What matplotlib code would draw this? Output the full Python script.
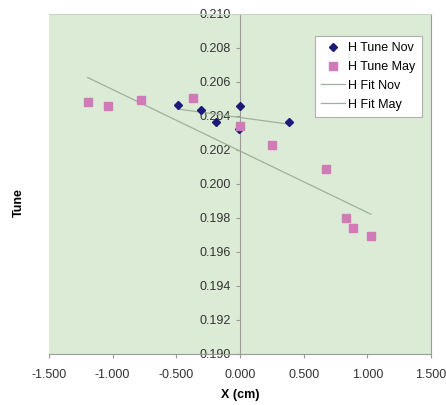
import matplotlib
matplotlib.use("Agg")
import matplotlib.pyplot as plt
import numpy as np

plt.rcParams['font.family'] = ['Liberation Sans', 'DejaVu Sans']

# horizontal tune vs. orbit offset, two measurement runs
x_nov = [-0.487, -0.306, -0.189, -0.008, 0.000, 0.385]
tune_nov = [0.2046, 0.20434, 0.20363, 0.20321, 0.20457, 0.20363]

x_may = [-1.196, -1.039, -0.778, -0.373, 0.000, 0.254, 0.675, 0.832, 0.890, 1.029]
tune_may = [0.20481, 0.20457, 0.20493, 0.20506, 0.20341, 0.20225, 0.20087, 0.19796, 0.19739, 0.19690]

x_ticks = [-1.5, -1.0, -0.5, 0.0, 0.5, 1.0, 1.5]
y_ticks = [0.190, 0.192, 0.194, 0.196, 0.198, 0.200, 0.202, 0.204, 0.206, 0.208, 0.210]


def linear_fit(x, y):
    # least squares line over the measured range
    slope, icpt = np.polyfit(x, y, 1)
    xs = np.array([min(x), max(x)])
    return xs, slope * xs + icpt


fig = plt.figure(figsize=(4.46, 4.05), dpi=100)
ax = fig.add_axes([0.1099, 0.1267, 0.8565, 0.8395])
ax.set_facecolor('#dcebd6')

ax.plot(x_nov, tune_nov, 'D', color='#1c1a78', ms=4.3, label='H Tune Nov', zorder=3)
ax.plot(x_may, tune_may, 's', color='#d07ab8', ms=5.3, label='H Tune May', zorder=3)

fx, fy = linear_fit(x_nov, tune_nov)
ax.plot(fx, fy, '-', color='#9cb29c', lw=0.9, label='H Fit Nov')
fx, fy = linear_fit(x_may, tune_may)
ax.plot(fx, fy, '-', color='#9cb29c', lw=0.9, label='H Fit May')

ax.set_xlim(-1.5, 1.5)
ax.set_ylim(0.190, 0.210)
ax.set_xticks(x_ticks)
ax.set_yticks(y_ticks)
ax.xaxis.set_major_formatter(matplotlib.ticker.FormatStrFormatter('%.3f'))
ax.yaxis.set_major_formatter(matplotlib.ticker.FormatStrFormatter('%.3f'))

# value axis crosses at x = 0
ax.spines['left'].set_position(('data', 0))
for s in ['left', 'bottom', 'top', 'right']:
    ax.spines[s].set_color('#9a9a9a')
    ax.spines[s].set_linewidth(0.8)
ax.spines['top'].set_color('#c8d4c4')

ax.tick_params(axis='both', colors='#9a9a9a', labelcolor='#333333',
               labelsize=9, length=3, width=0.8)
ax.tick_params(axis='x', pad=8)

ax.set_xlabel('X (cm)', fontsize=9, fontweight='bold', labelpad=6)
fig.text(0.042, 0.5, 'Tune', rotation=90, fontsize=9, fontweight='bold',
         ha='center', va='center')

leg = ax.legend(loc='upper right', bbox_to_anchor=(0.976, 0.935), fontsize=9,
                frameon=True, fancybox=False, framealpha=1, edgecolor='#b0b0b0',
                handlelength=1.9, borderpad=0.5, labelspacing=0.55, handletextpad=0.3,
                borderaxespad=0.0)
leg.get_frame().set_linewidth(0.8)

fig.savefig('out.png', dpi=100)
